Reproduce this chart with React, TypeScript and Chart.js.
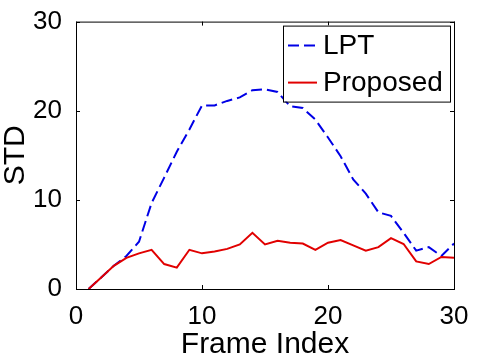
import React, { useEffect, useRef } from "react";
import { Chart, registerables } from "chart.js";

Chart.register(...registerables);

const frames = [1, 2, 3, 4, 5, 6, 7, 8, 9, 10, 11, 12, 13, 14, 15, 16, 17, 18, 19, 20, 21, 22, 23, 24, 25, 26, 27, 28, 29, 30];
const lptValues = [0, 1.3, 2.6, 3.7, 5.3, 9.65, 12.5, 15.4, 17.9, 20.6, 20.6, 21.1, 21.5, 22.3, 22.4, 22.1, 20.5, 20.3, 19.0, 17.0, 14.9, 12.3, 10.7, 8.6, 8.2, 6.3, 4.3, 4.7, 3.7, 5.1];
const proposedValues = [0, 1.3, 2.6, 3.5, 4.0, 4.4, 2.8, 2.4, 4.4, 4.0, 4.2, 4.5, 5.0, 6.3, 5.0, 5.4, 5.2, 5.1, 4.4, 5.2, 5.5, 4.9, 4.3, 4.7, 5.7, 5.05, 3.1, 2.8, 3.6, 3.5];
const xTicks = [0, 10, 20, 30];
const yTicks = [0, 10, 20, 30];
const seriesLabels = ["LPT", "Proposed"];
const xTitle = "Frame Index";
const yTitle = "STD";

const FONT = "'Liberation Sans', Arial, Helvetica, sans-serif";

const frameBox = {
  id: "frameBox",
  afterDraw(chart: any) {
    const { ctx, chartArea: a, scales } = chart;
    ctx.save();
    ctx.strokeStyle = "#000";
    ctx.lineWidth = 1;
    ctx.strokeRect(a.left + 0.5, a.top + 0.5, a.right - a.left, a.bottom - a.top);
    const tl = 4;
    ctx.beginPath();
    for (const v of xTicks) {
      const px = Math.round(scales.x.getPixelForValue(v)) + 0.5;
      ctx.moveTo(px, a.bottom);
      ctx.lineTo(px, a.bottom - tl);
      ctx.moveTo(px, a.top);
      ctx.lineTo(px, a.top + tl);
    }
    for (const v of yTicks) {
      const py = Math.round(scales.y.getPixelForValue(v)) + 0.5;
      ctx.moveTo(a.left, py);
      ctx.lineTo(a.left + tl, py);
      ctx.moveTo(a.right, py);
      ctx.lineTo(a.right - tl, py);
    }
    ctx.stroke();

    // legend
    const w = 167;
    const h = 76;
    const lx = a.right - 4 - w;
    const ly = a.top + 4;
    ctx.fillStyle = "#fff";
    ctx.fillRect(lx, ly, w, h);
    ctx.strokeRect(lx + 0.5, ly + 0.5, w, h);
    const rows = [ly + 20, ly + 57];
    chart.data.datasets.forEach((ds: any, i: number) => {
      const y = rows[i];
      ctx.save();
      ctx.strokeStyle = ds.borderColor;
      ctx.lineWidth = ds.borderWidth;
      ctx.setLineDash(ds.borderDash || []);
      ctx.beginPath();
      ctx.moveTo(lx + 5, y);
      ctx.lineTo(lx + 34, y);
      ctx.stroke();
      ctx.restore();
      ctx.fillStyle = "#000";
      ctx.font = `28px ${FONT}`;
      ctx.textBaseline = "middle";
      ctx.textAlign = "left";
      ctx.fillText(ds.label, lx + 40, y + 1);
    });
    ctx.restore();
  },
};

export default function App() {
  const ref = useRef<HTMLCanvasElement>(null);
  useEffect(() => {
    if (!ref.current) return;
    const chart = new Chart(ref.current, {
      type: "line",
      data: {
        labels: frames,
        datasets: [
          {
            label: seriesLabels[0],
            data: frames.map((f, i) => ({ x: f, y: lptValues[i] })),
            borderColor: "rgb(0,0,230)",
            borderWidth: 2,
            borderDash: [11, 5],
            pointRadius: 0,
            tension: 0,
            fill: false,
            order: 2,
          },
          {
            label: seriesLabels[1],
            data: frames.map((f, i) => ({ x: f, y: proposedValues[i] })),
            borderColor: "rgb(225,0,0)",
            borderWidth: 2,
            pointRadius: 0,
            tension: 0,
            fill: false,
            order: 1,
          },
        ],
      },
      options: {
        responsive: false,
        animation: false,
        devicePixelRatio: 1,
        layout: { padding: { left: 0, top: 11, right: 26, bottom: 0 } },
        plugins: { legend: { display: false }, tooltip: { enabled: false } },
        scales: {
          x: {
            type: "linear",
            min: 0,
            max: 30,
            afterBuildTicks: (s: any) => {
              s.ticks = xTicks.map((v) => ({ value: v }));
            },
            afterFit: (s: any) => {
              s.height = 71;
            },
            grid: { display: false },
            border: { display: false },
            ticks: {
              color: "#000",
              padding: 4,
              maxRotation: 0,
              font: { family: FONT, size: 26 },
            },
            title: {
              display: true,
              text: xTitle,
              color: "#000",
              font: { family: FONT, size: 30, lineHeight: 1 },
              padding: { top: 0, bottom: 0 },
            },
          },
          y: {
            type: "linear",
            min: 0,
            max: 30,
            afterBuildTicks: (s: any) => {
              s.ticks = yTicks.map((v) => ({ value: v }));
            },
            afterFit: (s: any) => {
              s.width = 76;
            },
            grid: { display: false },
            border: { display: false },
            ticks: {
              color: "#000",
              padding: 6,
              font: { family: FONT, size: 26 },
            },
            title: {
              display: true,
              text: yTitle,
              color: "#000",
              font: { family: FONT, size: 30, lineHeight: 1 },
              padding: { top: 1, bottom: 0 },
            },
          },
        },
      },
      plugins: [frameBox],
    } as any);
    return () => chart.destroy();
  }, []);
  return (
    <div style={{ position: "fixed", left: 0, top: 0, width: 480, height: 360, background: "#fff" }}>
      <canvas ref={ref} width={480} height={360} />
    </div>
  );
}
